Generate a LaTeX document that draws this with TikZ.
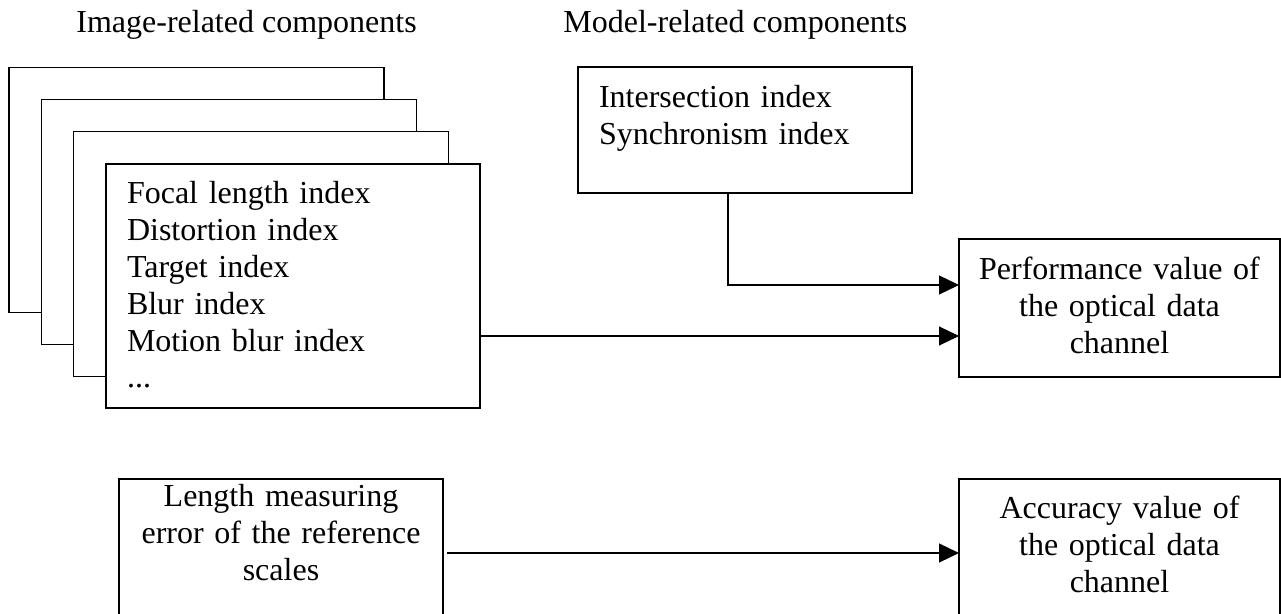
\documentclass[tikz,border=0pt]{standalone}
\usepackage{fontspec}
\setmainfont{Liberation Serif}
\usetikzlibrary{arrows.meta}
\tikzset{
  box/.style={draw, line width=0.6pt, fill=white, inner ysep=0pt, outer sep=0pt,
    anchor=north west, font=\fontsize{16}{18.4}\selectfont},
  sheet/.style={box, minimum width=187.5pt, minimum height=122.5pt},
  heading/.style={anchor=base west, inner sep=0pt, font=\fontsize{16}{18.4}\selectfont},
  flow/.style={line width=0.6pt, -{Triangle[length=10pt,width=9.5pt]}}
}
\begin{document}
\begin{tikzpicture}[x=0.5pt, y=-0.5pt]
  \useasboundingbox (0,0) rectangle (1281,614);
  \clip (0,0) rectangle (1281,614);
  % headings
  \node[heading] (imgtitle) at (76,33) {Image-related components};
  \node[heading] (modtitle) at (563,33) {Model-related components};
  % stack of image sheets
  \foreach \k in {0,1,2}
    \node[sheet] (sheet\k) at ({9+32.3*\k},{67.5+32.2*\k}) {};
  \node[box, inner xsep=10.5pt, text width=166pt, align=left,
        text height=20pt, text depth=102pt] (imgbox) at (106,164)
    {Focal length index\\ Distortion index\\ Target index\\ Blur index\\
     Motion blur index\\ ...};
  \node[box, inner xsep=10.5pt, text width=146pt, align=left,
        text height=20.5pt, text depth=42.5pt] (modbox) at (578,67)
    {Intersection index\\ Synchronism index};
  \node[box, inner xsep=0pt, text width=160.5pt, align=center,
        text height=20.5pt, text depth=48.5pt] (perf) at (959,239)
    {Performance value of\\ the optical data\\ channel};
  % reference scales
  \node[box, inner xsep=0pt, text width=162pt, align=center,
        text height=14pt, text depth=80pt] (lenbox) at (119,479)
    {Length measuring\\ error of the reference\\ scales};
  \node[box, inner xsep=0pt, text width=160.5pt, align=center,
        text height=20pt, text depth=80pt] (accbox) at (959,479)
    {Accuracy value of\\ the optical data\\ channel};
  % connectors
  \coordinate (imgout) at ([yshift=-25pt]imgbox.east);
  \coordinate (modout) at ([xshift=-8.5pt]modbox.south);
  \coordinate (perfin) at ([yshift=11.5pt]perf.west);
  \coordinate (lenout) at ([xshift=2pt,yshift=-37pt]lenbox.north east);
  \draw[flow] (modout) |- (perfin);
  \draw[flow] (imgout) -- (imgout -| perf.west);
  \draw[flow] (lenout) -- (lenout -| accbox.west);
\end{tikzpicture}
\end{document}
